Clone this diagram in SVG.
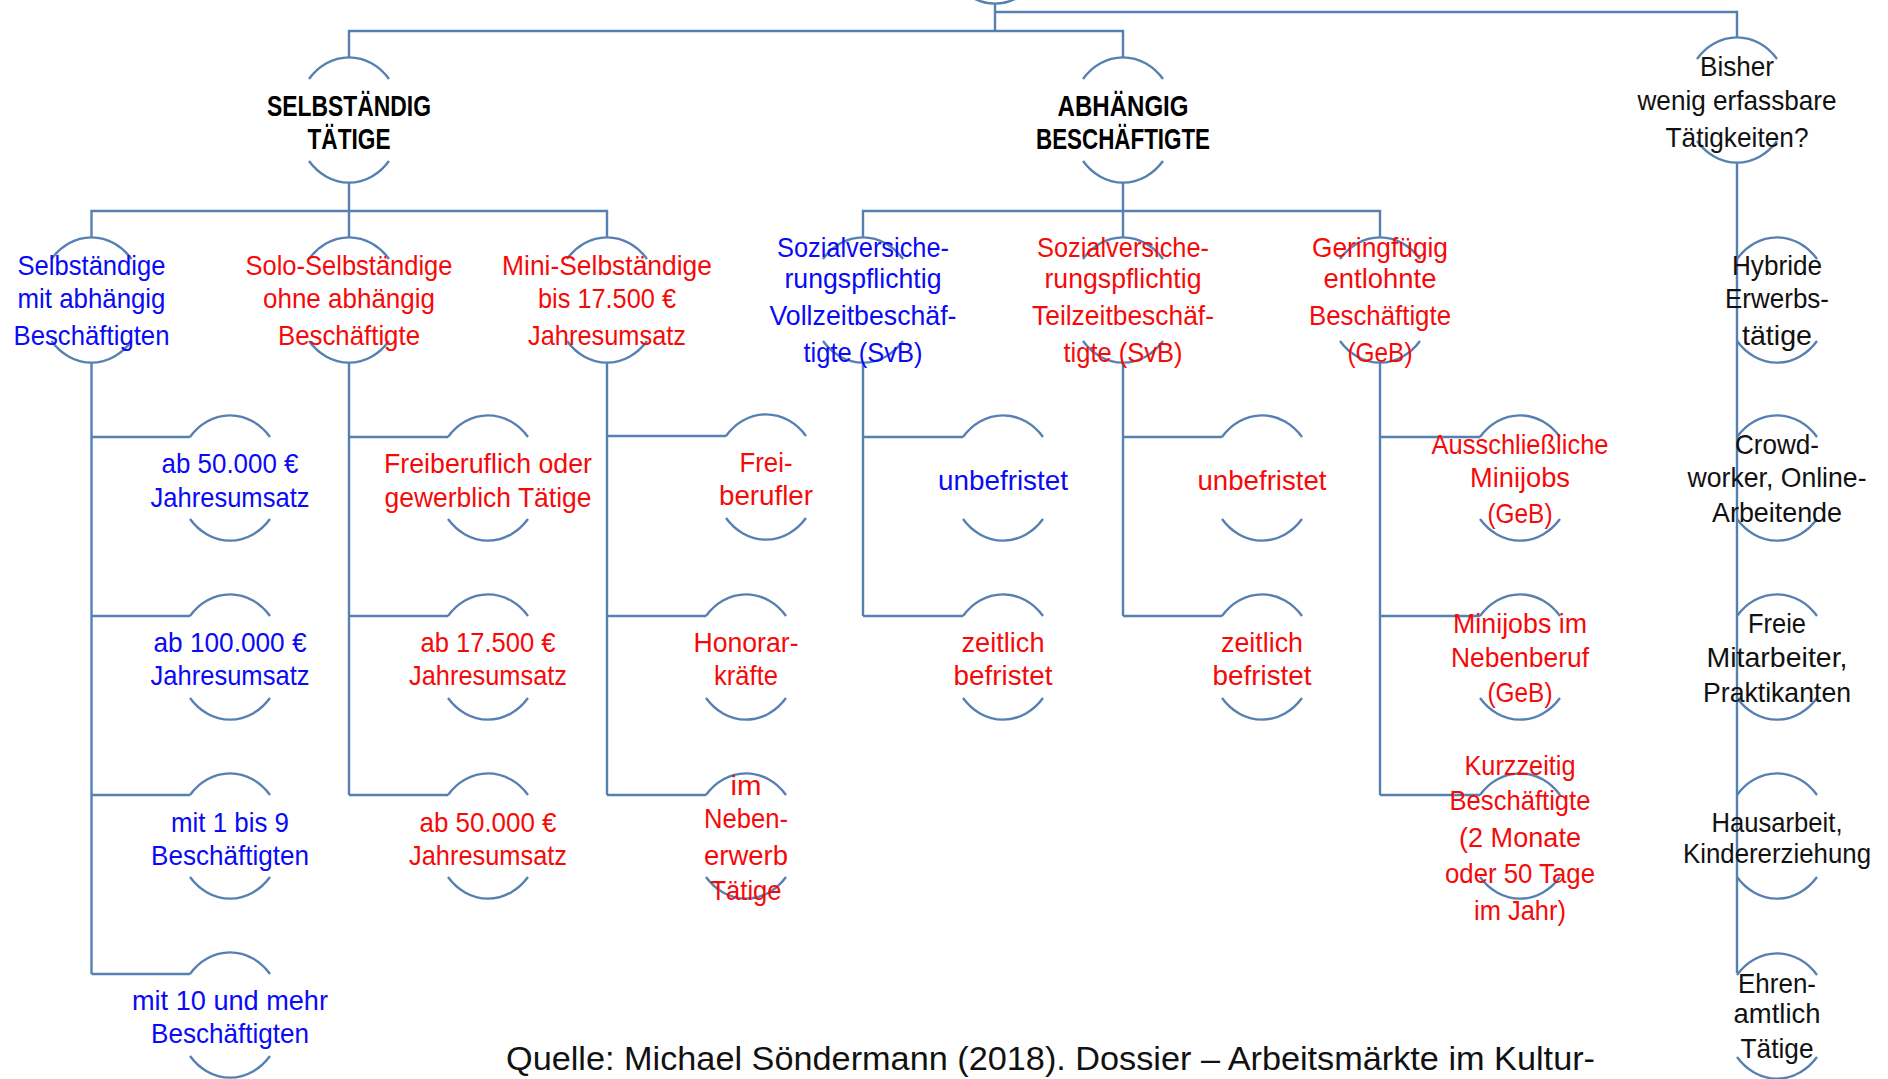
<svg xmlns="http://www.w3.org/2000/svg" width="1888" height="1079" viewBox="0 0 1888 1079">
<style>
.ln{fill:none;stroke:#5680B2;stroke-width:2.4}
.ring{fill:none;stroke:#5680B2;stroke-width:2.4}
text{font-family:"Liberation Sans",Arial,sans-serif;font-size:28px;text-anchor:middle}
.b{fill:#0A0AF5}
.r{fill:#F50A0A}
.k{fill:#111}
.h{font-weight:bold;font-size:30px;fill:#000}
.src{font-size:33px;text-anchor:start;fill:#111}
</style>
<defs>
<path id="ring" d="M-40,-41 A53,63 0 0 1 40,-41 M-40,41 A53,63 0 0 0 40,41"/>
</defs>
<rect width="1888" height="1079" fill="#fff"/>

<g id="connectors" class="ln">
<path d="M995,4 V31"/>
<path d="M349,57 V31 H1123 V57"/>
<path d="M995,12 H1737 V37"/>
<path d="M349,183 V211"/>
<path d="M91.5,237 V211 H607 V237"/>
<path d="M349,211 V237"/>
<path d="M1123,183 V211"/>
<path d="M863,237 V211 H1380 V237"/>
<path d="M1123,211 V237"/>
<path d="M1737,163 V973"/>
<path d="M91.5,363 V974"/>
<path d="M91.5,437 H190 M91.5,616 H190 M91.5,795 H190 M91.5,974 H190"/>
<path d="M349,363 V795"/>
<path d="M349,437 H448 M349,616 H448 M349,795 H448"/>
<path d="M607,363 V795"/>
<path d="M607,436 H726 M607,616 H706 M607,795 H706"/>
<path d="M863,363 V616"/>
<path d="M863,437 H963 M863,616 H963"/>
<path d="M1123,363 V616"/>
<path d="M1123,437 H1222 M1123,616 H1222"/>
<path d="M1380,363 V795"/>
<path d="M1380,437 H1480 M1380,616 H1480 M1380,795 H1480"/>
</g>

<g id="n-root"><use href="#ring" class="ring" x="995" y="-59"/></g>

<g id="n-selbstaendig">
<use href="#ring" class="ring" x="349" y="120"/>
<text class="h" x="349" y="116" textLength="164" lengthAdjust="spacingAndGlyphs">SELBSTÄNDIG</text>
<text class="h" x="349" y="149" textLength="83" lengthAdjust="spacingAndGlyphs">TÄTIGE</text>
</g>
<g id="n-abhaengig">
<use href="#ring" class="ring" x="1123" y="120"/>
<text class="h" x="1123" y="116" textLength="131" lengthAdjust="spacingAndGlyphs">ABHÄNGIG</text>
<text class="h" x="1123" y="149" textLength="174" lengthAdjust="spacingAndGlyphs">BESCHÄFTIGTE</text>
</g>
<g id="n-bisher">
<use href="#ring" class="ring" x="1737" y="100"/>
<text class="k" x="1737" y="76" textLength="74" lengthAdjust="spacingAndGlyphs">Bisher</text>
<text class="k" x="1737" y="110" textLength="199" lengthAdjust="spacingAndGlyphs">wenig erfassbare</text>
<text class="k" x="1737" y="147" textLength="143" lengthAdjust="spacingAndGlyphs">Tätigkeiten?</text>
</g>

<g id="n-selbst-mit">
<use href="#ring" class="ring" x="91.5" y="300"/>
<text class="b" x="91.5" y="275" textLength="148" lengthAdjust="spacingAndGlyphs">Selbständige</text>
<text class="b" x="91.5" y="308" textLength="148" lengthAdjust="spacingAndGlyphs">mit abhängig</text>
<text class="b" x="91.5" y="345" textLength="156" lengthAdjust="spacingAndGlyphs">Beschäftigten</text>
</g>
<g id="n-solo">
<use href="#ring" class="ring" x="349" y="300"/>
<text class="r" x="349" y="275" textLength="207" lengthAdjust="spacingAndGlyphs">Solo-Selbständige</text>
<text class="r" x="349" y="308" textLength="172" lengthAdjust="spacingAndGlyphs">ohne abhängig</text>
<text class="r" x="349" y="345" textLength="142" lengthAdjust="spacingAndGlyphs">Beschäftigte</text>
</g>
<g id="n-mini">
<use href="#ring" class="ring" x="607" y="300"/>
<text class="r" x="607" y="275" textLength="210" lengthAdjust="spacingAndGlyphs">Mini-Selbständige</text>
<text class="r" x="607" y="308" textLength="138" lengthAdjust="spacingAndGlyphs">bis 17.500 €</text>
<text class="r" x="607" y="345" textLength="158" lengthAdjust="spacingAndGlyphs">Jahresumsatz</text>
</g>
<g id="n-svb-voll">
<use href="#ring" class="ring" x="863" y="300"/>
<text class="b" x="863" y="257" textLength="172" lengthAdjust="spacingAndGlyphs">Sozialversiche-</text>
<text class="b" x="863" y="288" textLength="157" lengthAdjust="spacingAndGlyphs">rungspflichtig</text>
<text class="b" x="863" y="325" textLength="187" lengthAdjust="spacingAndGlyphs">Vollzeitbeschäf-</text>
<text class="b" x="863" y="362" textLength="119" lengthAdjust="spacingAndGlyphs">tigte (SvB)</text>
</g>
<g id="n-svb-teil">
<use href="#ring" class="ring" x="1123" y="300"/>
<text class="r" x="1123" y="257" textLength="172" lengthAdjust="spacingAndGlyphs">Sozialversiche-</text>
<text class="r" x="1123" y="288" textLength="157" lengthAdjust="spacingAndGlyphs">rungspflichtig</text>
<text class="r" x="1123" y="325" textLength="182" lengthAdjust="spacingAndGlyphs">Teilzeitbeschäf-</text>
<text class="r" x="1123" y="362" textLength="119" lengthAdjust="spacingAndGlyphs">tigte (SvB)</text>
</g>
<g id="n-geb">
<use href="#ring" class="ring" x="1380" y="300"/>
<text class="r" x="1380" y="257" textLength="136" lengthAdjust="spacingAndGlyphs">Geringfügig</text>
<text class="r" x="1380" y="288" textLength="113" lengthAdjust="spacingAndGlyphs">entlohnte</text>
<text class="r" x="1380" y="325" textLength="142" lengthAdjust="spacingAndGlyphs">Beschäftigte</text>
<text class="r" x="1380" y="362" textLength="65" lengthAdjust="spacingAndGlyphs">(GeB)</text>
</g>
<g id="n-hybride">
<use href="#ring" class="ring" x="1777" y="300"/>
<text class="k" x="1777" y="275" textLength="90" lengthAdjust="spacingAndGlyphs">Hybride</text>
<text class="k" x="1777" y="308" textLength="104" lengthAdjust="spacingAndGlyphs">Erwerbs-</text>
<text class="k" x="1777" y="345" textLength="70" lengthAdjust="spacingAndGlyphs">tätige</text>
</g>

<g id="n-ab50k">
<use href="#ring" class="ring" x="230" y="478"/>
<text class="b" x="230" y="473" textLength="137" lengthAdjust="spacingAndGlyphs">ab 50.000 €</text>
<text class="b" x="230" y="507" textLength="159" lengthAdjust="spacingAndGlyphs">Jahresumsatz</text>
</g>
<g id="n-ab100k">
<use href="#ring" class="ring" x="230" y="657"/>
<text class="b" x="230" y="652" textLength="153" lengthAdjust="spacingAndGlyphs">ab 100.000 €</text>
<text class="b" x="230" y="685" textLength="159" lengthAdjust="spacingAndGlyphs">Jahresumsatz</text>
</g>
<g id="n-1bis9">
<use href="#ring" class="ring" x="230" y="836"/>
<text class="b" x="230" y="832" textLength="118" lengthAdjust="spacingAndGlyphs">mit 1 bis 9</text>
<text class="b" x="230" y="865" textLength="158" lengthAdjust="spacingAndGlyphs">Beschäftigten</text>
</g>
<g id="n-10mehr">
<use href="#ring" class="ring" x="230" y="1015"/>
<text class="b" x="230" y="1010" textLength="196" lengthAdjust="spacingAndGlyphs">mit 10 und mehr</text>
<text class="b" x="230" y="1043" textLength="158" lengthAdjust="spacingAndGlyphs">Beschäftigten</text>
</g>

<g id="n-freiberuflich">
<use href="#ring" class="ring" x="488" y="478"/>
<text class="r" x="488" y="473" textLength="208" lengthAdjust="spacingAndGlyphs">Freiberuflich oder</text>
<text class="r" x="488" y="507" textLength="207" lengthAdjust="spacingAndGlyphs">gewerblich Tätige</text>
</g>
<g id="n-ab17k">
<use href="#ring" class="ring" x="488" y="657"/>
<text class="r" x="488" y="652" textLength="135" lengthAdjust="spacingAndGlyphs">ab 17.500 €</text>
<text class="r" x="488" y="685" textLength="158" lengthAdjust="spacingAndGlyphs">Jahresumsatz</text>
</g>
<g id="n-ab50k-solo">
<use href="#ring" class="ring" x="488" y="836"/>
<text class="r" x="488" y="832" textLength="137" lengthAdjust="spacingAndGlyphs">ab 50.000 €</text>
<text class="r" x="488" y="865" textLength="158" lengthAdjust="spacingAndGlyphs">Jahresumsatz</text>
</g>

<g id="n-freiberufler">
<use href="#ring" class="ring" x="766" y="477"/>
<text class="r" x="766" y="472" textLength="53" lengthAdjust="spacingAndGlyphs">Frei-</text>
<text class="r" x="766" y="505" textLength="94" lengthAdjust="spacingAndGlyphs">berufler</text>
</g>
<g id="n-honorar">
<use href="#ring" class="ring" x="746" y="657"/>
<text class="r" x="746" y="652" textLength="105" lengthAdjust="spacingAndGlyphs">Honorar-</text>
<text class="r" x="746" y="685" textLength="64" lengthAdjust="spacingAndGlyphs">kräfte</text>
</g>
<g id="n-nebenerwerb">
<use href="#ring" class="ring" x="746" y="836"/>
<text class="r" x="746" y="795" textLength="31" lengthAdjust="spacingAndGlyphs">im</text>
<text class="r" x="746" y="828" textLength="84" lengthAdjust="spacingAndGlyphs">Neben-</text>
<text class="r" x="746" y="865" textLength="84" lengthAdjust="spacingAndGlyphs">erwerb</text>
<text class="r" x="746" y="900" textLength="71" lengthAdjust="spacingAndGlyphs">Tätige</text>
</g>

<g id="n-unbefristet-voll">
<use href="#ring" class="ring" x="1003" y="478"/>
<text class="b" x="1003" y="490" textLength="130" lengthAdjust="spacingAndGlyphs">unbefristet</text>
</g>
<g id="n-befristet-voll">
<use href="#ring" class="ring" x="1003" y="657"/>
<text class="r" x="1003" y="652" textLength="83" lengthAdjust="spacingAndGlyphs">zeitlich</text>
<text class="r" x="1003" y="685" textLength="99" lengthAdjust="spacingAndGlyphs">befristet</text>
</g>
<g id="n-unbefristet-teil">
<use href="#ring" class="ring" x="1262" y="478"/>
<text class="r" x="1262" y="490" textLength="129" lengthAdjust="spacingAndGlyphs">unbefristet</text>
</g>
<g id="n-befristet-teil">
<use href="#ring" class="ring" x="1262" y="657"/>
<text class="r" x="1262" y="652" textLength="82" lengthAdjust="spacingAndGlyphs">zeitlich</text>
<text class="r" x="1262" y="685" textLength="99" lengthAdjust="spacingAndGlyphs">befristet</text>
</g>

<g id="n-minijobs">
<use href="#ring" class="ring" x="1520" y="478"/>
<text class="r" x="1520" y="454" textLength="177" lengthAdjust="spacingAndGlyphs">Ausschließliche</text>
<text class="r" x="1520" y="487" textLength="100" lengthAdjust="spacingAndGlyphs">Minijobs</text>
<text class="r" x="1520" y="523" textLength="65" lengthAdjust="spacingAndGlyphs">(GeB)</text>
</g>
<g id="n-minijobs-neben">
<use href="#ring" class="ring" x="1520" y="657"/>
<text class="r" x="1520" y="633" textLength="134" lengthAdjust="spacingAndGlyphs">Minijobs im</text>
<text class="r" x="1520" y="667" textLength="138" lengthAdjust="spacingAndGlyphs">Nebenberuf</text>
<text class="r" x="1520" y="702" textLength="65" lengthAdjust="spacingAndGlyphs">(GeB)</text>
</g>
<g id="n-kurzzeitig">
<use href="#ring" class="ring" x="1520" y="836"/>
<text class="r" x="1520" y="775" textLength="111" lengthAdjust="spacingAndGlyphs">Kurzzeitig</text>
<text class="r" x="1520" y="810" textLength="141" lengthAdjust="spacingAndGlyphs">Beschäftigte</text>
<text class="r" x="1520" y="847" textLength="122" lengthAdjust="spacingAndGlyphs">(2 Monate</text>
<text class="r" x="1520" y="883" textLength="150" lengthAdjust="spacingAndGlyphs">oder 50 Tage</text>
<text class="r" x="1520" y="920" textLength="92" lengthAdjust="spacingAndGlyphs">im Jahr)</text>
</g>

<g id="n-crowd">
<use href="#ring" class="ring" x="1777" y="478"/>
<text class="k" x="1777" y="454" textLength="84" lengthAdjust="spacingAndGlyphs">Crowd-</text>
<text class="k" x="1777" y="487" textLength="179" lengthAdjust="spacingAndGlyphs">worker, Online-</text>
<text class="k" x="1777" y="522" textLength="130" lengthAdjust="spacingAndGlyphs">Arbeitende</text>
</g>
<g id="n-freie">
<use href="#ring" class="ring" x="1777" y="657"/>
<text class="k" x="1777" y="633" textLength="58" lengthAdjust="spacingAndGlyphs">Freie</text>
<text class="k" x="1777" y="667" textLength="141" lengthAdjust="spacingAndGlyphs">Mitarbeiter,</text>
<text class="k" x="1777" y="702" textLength="148" lengthAdjust="spacingAndGlyphs">Praktikanten</text>
</g>
<g id="n-hausarbeit">
<use href="#ring" class="ring" x="1777" y="836"/>
<text class="k" x="1777" y="832" textLength="131" lengthAdjust="spacingAndGlyphs">Hausarbeit,</text>
<text class="k" x="1777" y="863" textLength="188" lengthAdjust="spacingAndGlyphs">Kindererziehung</text>
</g>
<g id="n-ehrenamt">
<use href="#ring" class="ring" x="1777" y="1016"/>
<text class="k" x="1777" y="993" textLength="78" lengthAdjust="spacingAndGlyphs">Ehren-</text>
<text class="k" x="1777" y="1023" textLength="87" lengthAdjust="spacingAndGlyphs">amtlich</text>
<text class="k" x="1777" y="1058" textLength="73" lengthAdjust="spacingAndGlyphs">Tätige</text>
</g>

<text class="src" x="506" y="1070" textLength="1089" lengthAdjust="spacingAndGlyphs">Quelle: Michael Söndermann (2018). Dossier – Arbeitsmärkte im Kultur-</text>
</svg>
